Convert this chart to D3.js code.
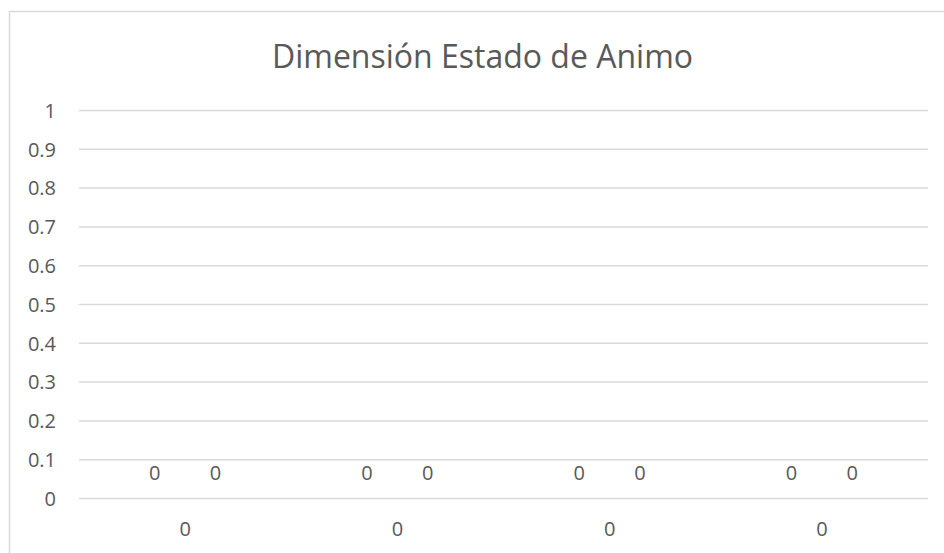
<!DOCTYPE html>
<html>
<head>
<meta charset="utf-8">
<script src="https://cdn.jsdelivr.net/npm/d3@7"></script>
<style>
  html, body { margin: 0; padding: 0; background: #fff; }
  svg { display: block; font-family: "Open Sans", Lato, sans-serif; }
</style>
</head>
<body>
<svg id="chart" width="944" height="553"></svg>
<script>
// Chart data
const title = "Dimensión Estado de Animo";
const categories = ["0", "0", "0", "0"];
const seriesNames = ["Serie 1", "Serie 2"];
const series1 = [0, 0, 0, 0];
const series2 = [0, 0, 0, 0];
const yTicks = [0, 0.1, 0.2, 0.3, 0.4, 0.5, 0.6, 0.7, 0.8, 0.9, 1];

const svg = d3.select("#chart");
const W = 944, H = 553;
const plot = { left: 79, right: 928, top: 110, bottom: 498 };
const textColor = "#595959";
const gridColor = "#d9d9d9";
const font = "'Open Sans', Lato, sans-serif";
const labelSize = 20;

// Chart area frame
svg.append("rect")
  .attr("x", 9.5).attr("y", 11.5)
  .attr("width", W + 10).attr("height", H + 10)
  .attr("fill", "#fff")
  .attr("stroke", gridColor).attr("stroke-width", 1.5);

// Title
svg.append("text")
  .attr("x", 482.5)
  .attr("y", 68)
  .attr("text-anchor", "middle")
  .attr("fill", textColor)
  .attr("font-size", 32)
  .text(title);

const y = d3.scaleLinear().domain([0, 1]).range([plot.bottom, plot.top]);
const idx = categories.map((_, i) => i);
const x0 = d3.scaleBand().domain(idx).range([plot.left, plot.right]).padding(0);
const x1 = d3.scaleBand().domain(seriesNames)
  .range([0, x0.bandwidth()]).paddingInner(0).paddingOuter(0.75);

// Gridlines and value axis labels
const yAxis = d3.axisLeft(y).tickValues(yTicks)
  .tickSize(-(plot.right - plot.left)).tickPadding(23)
  .tickFormat(d => String(d));
const gy = svg.append("g").attr("transform", `translate(${plot.left},0)`).call(yAxis);
gy.select(".domain").remove();
gy.selectAll(".tick line").attr("stroke", gridColor).attr("stroke-width", 1.5);
gy.selectAll(".tick text").attr("fill", textColor).attr("font-size", labelSize)
  .attr("font-family", font).attr("dy", "0.36em");

// Category axis labels
const xAxis = d3.axisBottom(x0).tickSize(0).tickPadding(0)
  .tickFormat(i => categories[i]);
const gx = svg.append("g").attr("transform", `translate(0,${plot.bottom})`).call(xAxis);
gx.select(".domain").remove();
gx.selectAll(".tick text").attr("fill", textColor).attr("font-size", labelSize)
  .attr("font-family", font).attr("y", 31).attr("dy", "0.36em");

// Columns and data labels
const rows = idx.map(i => ({ i, values: [series1[i], series2[i]] }));
const colors = ["#4472c4", "#ed7d31"];
const groups = svg.append("g").selectAll("g").data(rows).join("g")
  .attr("transform", d => `translate(${x0(d.i)},0)`);

groups.selectAll("rect")
  .data(d => d.values.map((v, k) => ({ v, k })))
  .join("rect")
  .attr("x", d => x1(seriesNames[d.k]))
  .attr("width", x1.bandwidth())
  .attr("y", d => y(d.v))
  .attr("height", d => y(0) - y(d.v))
  .attr("fill", d => colors[d.k]);

groups.selectAll("text")
  .data(d => d.values.map((v, k) => ({ v, k })))
  .join("text")
  .attr("x", d => x1(seriesNames[d.k]) + x1.bandwidth() / 2)
  .attr("y", d => y(d.v) - 25)
  .attr("dy", "0.36em")
  .attr("text-anchor", "middle")
  .attr("fill", textColor)
  .attr("font-size", labelSize)
  .text(d => d.v);
</script>
</body>
</html>
